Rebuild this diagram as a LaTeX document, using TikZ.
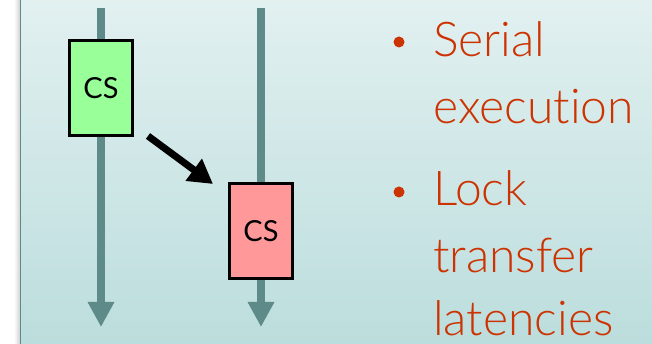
\documentclass[tikz,border=0pt]{standalone}
\usepackage{fontspec}
\setmainfont{Lato}[UprightFont=* Light, Ligatures={NoCommon,NoRare}]
\newfontfamily\boxfont{Lato}[Ligatures={NoCommon,NoRare}]
\usetikzlibrary{arrows.meta}
\definecolor{panelTop}{RGB}{226,240,240}
\definecolor{panelBot}{RGB}{188,221,221}
\definecolor{timeline}{RGB}{95,138,138}
\definecolor{csgreen}{RGB}{153,255,153}
\definecolor{csred}{RGB}{255,153,153}
\definecolor{bullettext}{RGB}{204,51,0}
\tikzset{
  timeaxis/.style={draw=timeline, line width=8pt, -{Triangle[width=25pt,length=25pt]}},
  csbox/.style={draw=black, line width=3pt, minimum width=63pt, minimum height=95pt,
                inner sep=0pt, font=\boxfont\fontsize{29}{34}\selectfont},
  handoff/.style={draw=black, line width=7pt, -{Triangle[width=26pt,length=24pt]}},
  itemline/.style={anchor=base west, inner sep=0pt, text=bullettext,
                   font=\fontsize{48}{52}\selectfont},
  itemdot/.style={circle, fill=bullettext, minimum size=11pt, inner sep=0pt}
}
\begin{document}
\begin{tikzpicture}[x=1pt,y=1pt]
  \useasboundingbox (0,0) rectangle (652,344);
  % page margin, soft edge and panel background
  \fill[white] (0,0) rectangle (21,344);
  \shade[left color=white, right color=black!18] (14,0) rectangle (20,344);
  \shade[top color=panelTop, bottom color=panelBot] (21,0) rectangle (652,344);
  \draw[timeline, line width=1.6pt] (20.5,0) -- (20.5,344);

  % two thread timelines
  \coordinate (t1top) at (101,336);
  \coordinate (t1end) at (101,17);
  \coordinate (t2top) at (261,336);
  \coordinate (t2end) at (261,17);
  \draw[timeaxis] (t1top) -- (t1end);
  \draw[timeaxis] (t2top) -- (t2end);

  % critical sections
  \node[csbox, fill=csgreen] (cs1) at (101,256) {CS};
  \node[csbox, fill=csred]   (cs2) at (261,113) {CS};

  % lock hand-off
  \coordinate (h1) at (148,208);
  \coordinate (h2) at (213,160);
  \draw[handoff] (h1) -- (h2);

  % bullet points
  \node[itemdot] (b1) at (399,302) {};
  \node[itemline] (s1) at (433,287) {Serial};
  \node[itemline] (s2) at (433,220) {execution};
  \node[itemdot] (b2) at (399,152) {};
  \node[itemline] (l1) at (433,138) {Lock};
  \node[itemline] (l2) at (433,71) {transfer};
  \node[itemline] (l3) at (433,8) {latencies};
\end{tikzpicture}
\end{document}
